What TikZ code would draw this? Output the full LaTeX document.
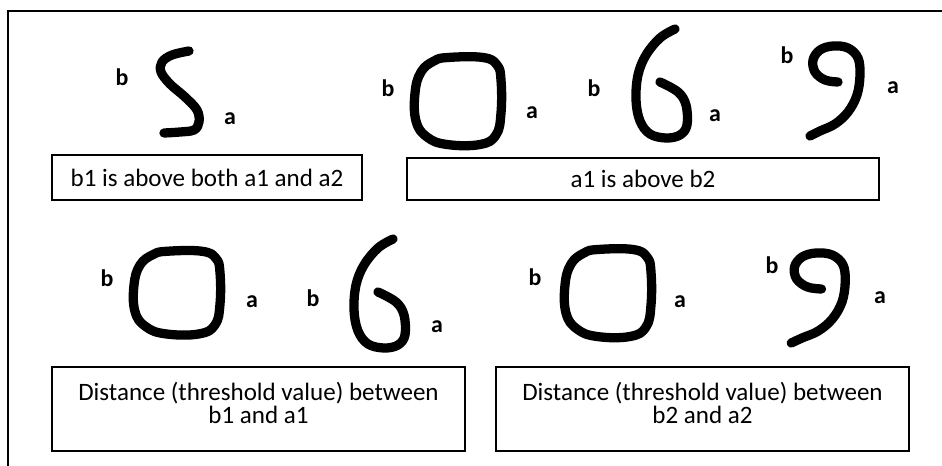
\documentclass[tikz,border=0pt]{standalone}
\usepackage{fontspec}
\setmainfont{Carlito}
\usepackage{tikz}

\begin{document}
\begin{tikzpicture}[x=0.025cm, y=-0.025cm,
  every node/.style={inner sep=0pt},
  lbl/.style={font=\bfseries\fontsize{17}{17}\selectfont},
  rule/.style={draw, line width=1.2pt, align=center, font=\fontsize{17.8}{16.2}\selectfont},
  digit/.style={line width=6.6pt, line cap=round, line join=round}]
  \useasboundingbox (0,0) rectangle (942,466);
  \draw[line width=1.4pt] (8,466) -- (8,11) -- (942,11);

  % top row: S, 0, 6, 9
  \draw[digit] plot[smooth, tension=0.6] coordinates {(189,51) (172,55) (162,62) (161,72) (170,84) (185,97) (197,110) (199,122) (194,130) (180,132) (164,133)};
  \node[lbl] (Sb) at (122,77) {b};
  \node[lbl] (Sa) at (230,119) {a};

  \draw[digit, shift={(410,53)}] plot[smooth cycle, tension=0.7] coordinates {(38,4.5) (73,4.5) (87,12) (91,27) (91,60) (86,82) (70,91.5) (37,91.5) (17,84) (6,68) (5,40) (11,19) (24,8)};
  \node[lbl] (Ob) at (388,88) {b};
  \node[lbl] (Oa) at (532,113) {a};

  \draw[digit, shift={(632,25)}] plot[smooth, tension=0.6] coordinates {(28,57) (46,67) (54,80) (55,100) (48,110) (34,113) (18,109) (8,96) (4,75) (6,50) (14,30) (28,13) (43,4)};
  \node[lbl] (Xb) at (594,88) {b};
  \node[lbl] (Xa) at (715,116) {a};

  \draw[digit, shift={(807,43)}] plot[smooth, tension=0.6] coordinates {(31,39) (18,37) (8,29) (6,17) (13,7) (26,3) (41,5) (51,15) (53,32) (50,52) (41,69) (28,81) (13,88) (3,93)};
  \node[lbl] (Nb) at (787,55) {b};
  \node[lbl] (Na) at (893,88) {a};

  \node[rule, minimum width=7.75cm, minimum height=1.125cm] (ruleA) at (207,177.5) {b1 is above both a1 and a2};
  \node[rule, minimum width=11.8cm, minimum height=1.05cm] (ruleB) at (643,179) {a1 is above b2};

  % bottom row: 0, 6 and 0, 9
  \draw[digit, shift={(129,247)}, yscale=0.95] plot[smooth cycle, tension=0.7] coordinates {(38,4.5) (73,4.5) (87,12) (91,27) (91,60) (86,82) (70,91.5) (37,91.5) (17,84) (6,68) (5,40) (11,19) (24,8)};
  \node[lbl] (Pb) at (107,278) {b};
  \node[lbl] (Pa) at (252,302) {a};

  \draw[digit, shift={(350,235)}] plot[smooth, tension=0.6] coordinates {(28,57) (46,67) (54,80) (55,100) (48,110) (34,113) (18,109) (8,96) (4,75) (6,50) (14,30) (28,13) (43,4)};
  \node[lbl] (Qb) at (313,298) {b};
  \node[lbl] (Qa) at (437,327) {a};

  \draw[digit, shift={(560,245)}] plot[smooth cycle, tension=0.7] coordinates {(38,4.5) (73,4.5) (87,12) (91,27) (91,60) (86,82) (70,91.5) (37,91.5) (17,84) (6,68) (5,40) (11,19) (24,8)};
  \node[lbl] (Rb) at (535,277) {b};
  \node[lbl] (Ra) at (680,302) {a};

  \draw[digit, shift={(788,250)}, xscale=1.08] plot[smooth, tension=0.6] coordinates {(31,39) (18,37) (8,29) (6,17) (13,7) (26,3) (41,5) (51,15) (53,32) (50,52) (41,69) (28,81) (13,88) (3,93)};
  \node[lbl] (Tb) at (772,265) {b};
  \node[lbl] (Ta) at (880,298) {a};

  \node[rule, text depth=9pt, minimum width=10.325cm, minimum height=2.1cm] (ruleC) at (258.5,409) {Distance (threshold value) between\\b1 and a1};
  \node[rule, text depth=9pt, minimum width=10.325cm, minimum height=2.1cm] (ruleD) at (702.5,409) {Distance (threshold value) between\\b2 and a2};
\end{tikzpicture}
\end{document}
